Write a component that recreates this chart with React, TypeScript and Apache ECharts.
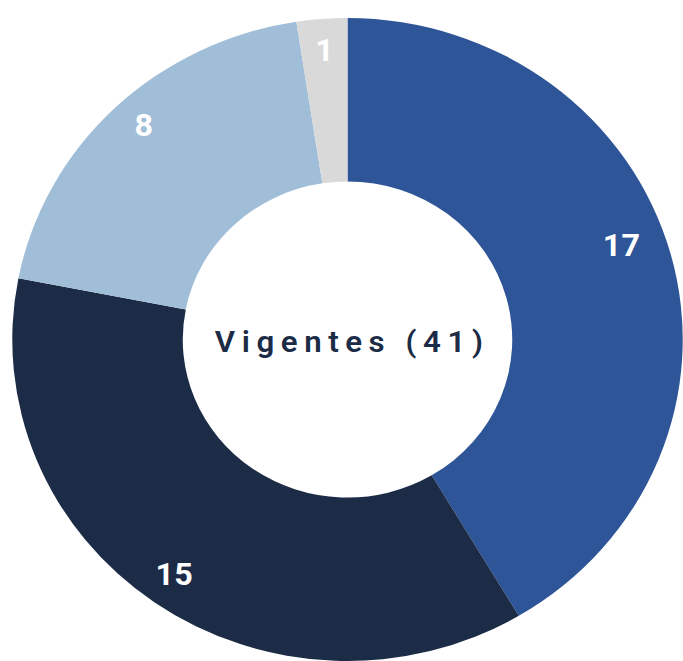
import React, { useEffect, useRef } from "react";
import * as echarts from "echarts";

const categories = ["A", "B", "C", "D"];
const values = [17, 15, 8, 1];
const colors = ["#2E5597", "#1C2B46", "#A1BED9", "#D9D9D9"];
const labelNudge = [[-16, -16], [0, 0], [5, -5], [0, 0]];
const centerLabel = "Vigentes (41)";

const SCALE_X = 1.0427;
const W = Math.round(683 / SCALE_X);
const H = 661;

export default function App() {
  const ref = useRef<HTMLDivElement>(null);
  useEffect(() => {
    document.body.style.margin = "0";
    if (!ref.current) return;
    const chart = echarts.init(ref.current, undefined, { renderer: "svg" });
    const cx = 347.5 / SCALE_X;
    const cy = 338.5;
    const data = categories.map((c, i) => ({
      name: c,
      value: values[i],
      itemStyle: { color: colors[i] },
    }));
    chart.setOption({
      animation: false,
      series: [
        {
          type: "pie",
          center: [cx, cy + 1],
          radius: [158, 321.5],
          startAngle: 90,
          clockwise: true,
          silent: true,
          label: { show: false },
          labelLine: { show: false },
          itemStyle: { borderWidth: 0 },
          emphasis: { disabled: true },
          data,
        },
        {
          type: "pie",
          center: [cx, cy],
          radius: [252, 320],
          startAngle: 90,
          clockwise: true,
          silent: true,
          itemStyle: { color: "transparent", borderWidth: 0 },
          label: {
            show: true,
            position: "inside",
            formatter: "{c}",
            color: "#ffffff",
            fontSize: 31,
            fontWeight: "bold",
            fontFamily: "Roboto, sans-serif",
          },
          labelLine: { show: false },
          emphasis: { disabled: true },
          data: categories.map((c, i) => ({
            name: c,
            value: values[i],
            label: { offset: labelNudge[i] },
          })),
        },
      ],
      graphic: [
        {
          type: "text",
          id: "centerText",
          x: 349 / SCALE_X + 3,
          y: 342,
          silent: true,
          style: {
            text: centerLabel,
            fill: "#1C2B46",
            font: "600 30px Roboto, sans-serif",
            textAlign: "center",
            textVerticalAlign: "middle",
          },
        },
      ],
    });
    const texts = ref.current.querySelectorAll("text");
    texts.forEach((t) => {
      if (t.textContent === centerLabel) {
        t.setAttribute("letter-spacing", "6.3px");
      }
    });
    return () => chart.dispose();
  }, []);
  return (
    <div
      ref={ref}
      style={{
        width: W,
        height: H,
        transform: `scaleX(${SCALE_X})`,
        transformOrigin: "0 0",
        overflow: "hidden",
      }}
    />
  );
}
